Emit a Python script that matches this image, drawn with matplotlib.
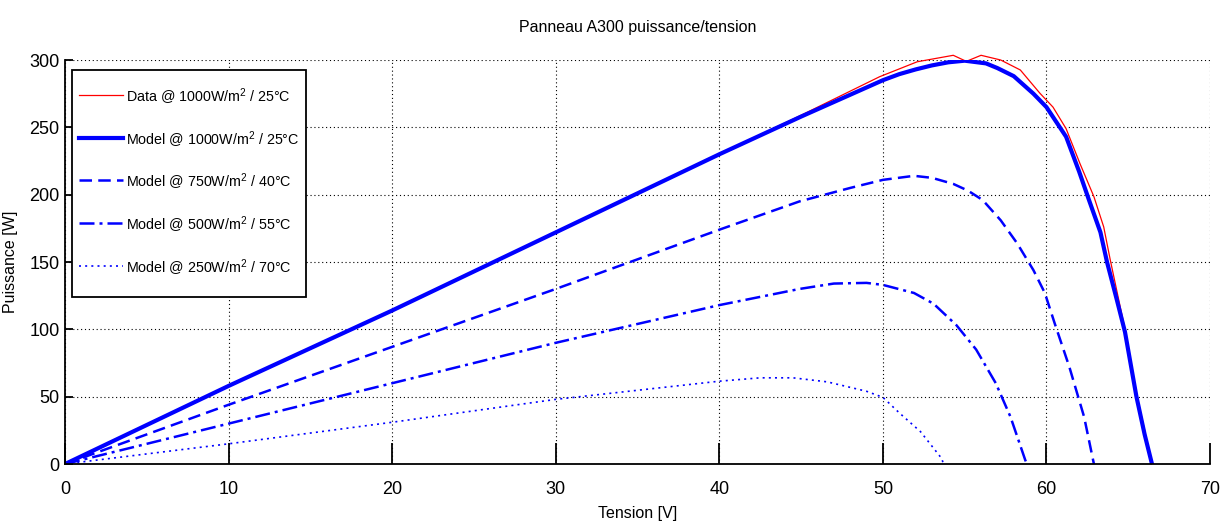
import matplotlib
matplotlib.use("Agg")
import matplotlib.pyplot as plt
from matplotlib.lines import Line2D
from matplotlib.legend_handler import HandlerLine2D

plt.rcParams['font.family'] = ['Liberation Sans', 'DejaVu Sans']
plt.rcParams['mathtext.fontset'] = 'custom'
plt.rcParams['mathtext.rm'] = 'Liberation Sans'

# measured panel curve (1000 W/m2, 25 C)
data_v = [0, 5, 10, 15, 20, 25, 30, 35, 40, 45, 49.8, 52.1, 54.3, 55.1, 56.0,
          57.2, 58.4, 59.6, 60.4, 61.2, 62.05, 62.9, 63.5, 63.9, 64.8, 65.5, 66.0, 66.4]
data_p = [0, 29, 58, 86, 114, 143, 172, 201, 230, 259, 287.6, 298.7, 303.5, 299, 303.5,
          300, 292.6, 275.3, 265, 249, 223, 198.5, 176, 151.5, 100, 52, 25, 0]

# model curves
v_1000 = [0, 5, 10, 15, 20, 25, 30, 35, 40, 45, 50, 51, 52, 53, 54, 55, 56.3, 57, 58,
          59.2, 60, 61.2, 62.0, 62.6, 63.3, 63.7, 64.3, 64.8, 65.5, 66.0, 66.45]
p_1000 = [0, 29, 58, 86, 114, 143, 172, 201, 230, 258, 285, 289.5, 293, 296, 298.3, 299.5,
          297.5, 294, 288, 275, 265, 243, 217, 196, 172, 150, 122, 98, 50, 22, 0]

v_750 = [0, 10, 20, 30, 40, 44.9, 48, 50, 51.9, 53, 54.3, 55.2, 56.1, 57.2, 58.2, 59.2,
         59.9, 60.5, 61.4, 62.3, 62.9]
p_750 = [0, 44, 87, 130, 174, 195, 205, 211, 214, 212.5, 208, 203, 196, 181, 164, 144,
         127, 104.5, 72, 35, 0]

v_500 = [0, 10, 20, 30, 40, 44.9, 47, 49, 50, 51.9, 53.1, 54.5, 55.7, 56.9, 57.8, 58.7, 58.8]
p_500 = [0, 30, 60, 90, 118, 130, 134, 134.5, 133, 127, 119, 103, 85, 60, 35, 3, 0]

v_250 = [0, 10, 20, 30, 40, 42.5, 44.5, 46.6, 49, 50, 51, 52.3, 53.6, 53.7]
p_250 = [0, 15, 31, 48, 61.5, 64, 64, 61, 54, 49.5, 38, 24, 4, 0]

labels = ["Data @ 1000W/m$^2$ / 25°C",
          "Model @ 1000W/m$^2$ / 25°C",
          "Model @ 750W/m$^2$ / 40°C",
          "Model @ 500W/m$^2$ / 55°C",
          "Model @ 250W/m$^2$ / 70°C"]

x_ticks = [0, 10, 20, 30, 40, 50, 60, 70]
y_ticks = [0, 50, 100, 150, 200, 250, 300]


# legend line sample moved down so it sits level with the label text
class LoweredLine(HandlerLine2D):
    def create_artists(self, legend, orig_handle, xdescent, ydescent, width, height,
                       fontsize, trans):
        artists = super().create_artists(legend, orig_handle, xdescent, ydescent,
                                         width, height, fontsize, trans)
        for a in artists:
            a.set_ydata([y - 4.0 for y in a.get_ydata()])
        return artists


def main():
    fig = plt.figure(figsize=(12.25, 5.32), dpi=100)
    ax = fig.add_axes([0.0531, 0.1278, 0.9347, 0.7594])

    ax.plot(data_v, data_p, color="r", lw=0.9, label=labels[0], clip_on=False)
    ax.plot(v_1000, p_1000, color="b", lw=3.0, label=labels[1])
    ax.plot(v_750, p_750, color="b", lw=1.8, dashes=(5, 2.5), label=labels[2])
    ax.plot(v_500, p_500, color="b", lw=1.8, dashes=(6, 2, 1.2, 2), label=labels[3])
    ax.plot(v_250, p_250, color="b", lw=1.2, dashes=(1.2, 2.5), label=labels[4])

    ax.set_xlim(0, 70)
    ax.set_ylim(0, 300)
    ax.set_xticks(x_ticks)
    ax.set_yticks(y_ticks)
    ax.grid(True, color="k", lw=0.8, linestyle=(0, (1, 2.5)))

    for side in ["top", "right"]:
        ax.spines[side].set_visible(False)
    for side in ["left", "bottom"]:
        ax.spines[side].set_linewidth(1.3)

    ax.tick_params(axis="x", direction="in", length=15, width=1.3, pad=12, labelsize=13)
    ax.tick_params(axis="y", direction="in", length=6, width=1.3, pad=4, labelsize=13)

    ax.set_title("Panneau A300 puissance/tension", fontsize=11.5, pad=20)
    ax.set_xlabel("Tension [V]", fontsize=11.5, labelpad=6)
    ax.set_ylabel("Puissance [W]", fontsize=11.5, labelpad=8)

    # tall legend rows, thin border padding
    leg = ax.legend(loc="upper left", bbox_to_anchor=(0.006, 0.975), borderaxespad=0,
                    fontsize=10.3, handlelength=3.1, handleheight=4.2, handletextpad=0.15,
                    labelspacing=0.0, borderpad=0.5, fancybox=False, framealpha=1,
                    edgecolor="k", handler_map={Line2D: LoweredLine()})
    leg.get_frame().set_linewidth(1.3)

    fig.savefig("out.png", dpi=100)


if __name__ == "__main__":
    main()
